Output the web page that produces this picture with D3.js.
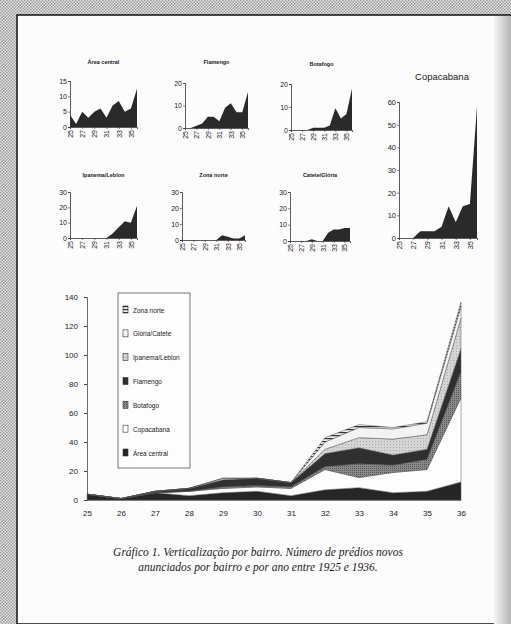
<!DOCTYPE html>
<html>
<head>
<meta charset="utf-8">
<script src="https://cdn.jsdelivr.net/npm/d3@7"></script>
<style>
  body { margin: 0; background: #fff; }
  svg { display: block; }
</style>
</head>
<body>
<div id="chart"></div>
<script>
// years 1925-1936 (shown as two digits)
const years = [25, 26, 27, 28, 29, 30, 31, 32, 33, 34, 35, 36];

// new buildings per neighbourhood and year
const areaCentral  = [4, 1, 5, 3, 5, 6, 3, 7, 8.5, 5, 6, 12.5];
const flamengo     = [0, 0, 1, 2, 5, 5, 3, 9, 11, 7, 7, 16];
const botafogo     = [0, 0, 0, 0, 1, 1, 1, 2, 9.5, 5, 7, 18];
const copacabana   = [0, 0, 0, 3, 3, 3, 5, 14, 7, 14, 15, 58];
const ipanemaLeblon = [0, 0, 0, 0, 0, 0, 0, 3, 7, 11, 10, 21];
const zonaNorte    = [0, 0, 0, 0, 0, 0, 0, 3, 2, 1, 1, 3];
const cateteGloria = [0, 0, 0, 0, 1, 0, 0, 5, 7, 7, 8, 8];

// tick labels
const smallTicks = [25, 27, 29, 31, 33, 35];
const ticks15 = [0, 5, 10, 15];
const ticks20 = [0, 10, 20];
const ticks30 = [0, 10, 20, 30];
const ticks60 = [0, 10, 20, 30, 40, 50, 60];
const mainYTicks = [0, 20, 40, 60, 80, 100, 120, 140];

const caption = [
  'Gráfico 1. Verticalização por bairro. Número de prédios novos',
  'anunciados por bairro e por ano entre 1925 e 1936.'
];

const width = 511, height = 624;

const svg = d3.select('#chart')
  .append('svg')
    .attr('width', width)
    .attr('height', height);

const defs = svg.append('defs');

// checkered frame around the scanned page
const chk = defs.append('pattern')
  .attr('id', 'chk').attr('width', 3).attr('height', 3)
  .attr('patternUnits', 'userSpaceOnUse');
chk.append('rect').attr('width', 3).attr('height', 3).attr('fill', '#e6e6e6');
chk.append('rect').attr('width', 1.5).attr('height', 1.5).attr('fill', '#9a9a9a');
chk.append('rect').attr('x', 1.5).attr('y', 1.5).attr('width', 1.5).attr('height', 1.5).attr('fill', '#9a9a9a');

// fills for the stacked chart
const dots = defs.append('pattern')
  .attr('id', 'dots').attr('width', 2).attr('height', 2)
  .attr('patternUnits', 'userSpaceOnUse');
dots.append('rect').attr('width', 2).attr('height', 2).attr('fill', '#8a8a8a');
dots.append('rect').attr('width', 1).attr('height', 1).attr('fill', '#555');

const speck = defs.append('pattern')
  .attr('id', 'speck').attr('width', 3).attr('height', 3)
  .attr('patternUnits', 'userSpaceOnUse');
speck.append('rect').attr('width', 3).attr('height', 3).attr('fill', '#d4d4d4');
speck.append('rect').attr('width', 1).attr('height', 1).attr('fill', '#aaa');

const stripes = defs.append('pattern')
  .attr('id', 'stripes').attr('width', 3).attr('height', 3)
  .attr('patternUnits', 'userSpaceOnUse');
stripes.append('rect').attr('width', 3).attr('height', 3).attr('fill', '#eee');
stripes.append('rect').attr('width', 3).attr('height', 1.2).attr('fill', '#333');

const shadow = defs.append('linearGradient').attr('id', 'shadow');
shadow.append('stop').attr('offset', '0%').attr('stop-color', '#f4f4f4');
shadow.append('stop').attr('offset', '100%').attr('stop-color', '#b5b5b5');

svg.append('rect').attr('width', width).attr('height', height).attr('fill', 'url(#chk)');
svg.append('rect')
  .attr('x', 17).attr('y', 15).attr('width', width - 17).attr('height', height - 15)
  .attr('fill', '#fcfcfc').attr('stroke', '#111').attr('stroke-width', 1.5);
svg.append('rect')
  .attr('x', 494).attr('y', 16).attr('width', 17).attr('height', height - 16)
  .attr('fill', 'url(#shadow)');

const font = '"Liberation Sans Narrow", "Liberation Sans", Arial, sans-serif';

// ---------- small multiples ----------
const panels = [
  { title: 'Área central', values: areaCentral, max: 15, ticks: ticks15, x0: 70, x1: 137, y0: 127, y1: 81, ty: 64, big: false },
  { title: 'Flamengo', values: flamengo, max: 20, ticks: ticks20, x0: 185, x1: 248, y0: 128, y1: 83, ty: 64, big: false },
  { title: 'Botafogo', values: botafogo, max: 20, ticks: ticks20, x0: 291, x1: 352, y0: 130, y1: 84, ty: 66, big: false },
  { title: 'Copacabana', values: copacabana, max: 60, ticks: ticks60, x0: 399, x1: 477, y0: 238, y1: 102, ty: 80, big: true },
  { title: 'Ipanema/Leblon', values: ipanemaLeblon, max: 30, ticks: ticks30, x0: 70, x1: 137, y0: 238, y1: 192, ty: 177, big: false },
  { title: 'Zona norte', values: zonaNorte, max: 30, ticks: ticks30, x0: 182, x1: 245, y0: 240, y1: 192, ty: 177, big: false },
  { title: 'Catete/Glória', values: cateteGloria, max: 30, ticks: ticks30, x0: 290, x1: 350, y0: 241, y1: 192, ty: 177, big: false }
];

panels.forEach(function(p) {
  const g = svg.append('g');

  const x = d3.scaleLinear().domain([25, 36]).range([p.x0, p.x1]);
  const y = d3.scaleLinear().domain([0, p.max]).range([p.y0, p.y1]);

  g.append('text')
    .attr('x', (p.x0 + p.x1) / 2 + (p.big ? 4 : 0))
    .attr('y', p.ty)
    .attr('text-anchor', 'middle')
    .style('font-family', p.big ? '"Liberation Sans", Arial, sans-serif' : font)
    .style('font-size', p.big ? '9.5px' : '5.5px')
    .style('font-weight', p.big ? 'normal' : 'bold')
    .style('fill', '#222')
    .text(p.title);

  const area = d3.area()
    .x(function(d, i) { return x(years[i]); })
    .y0(y(0))
    .y1(function(d) { return y(d); });

  g.append('path')
    .datum(p.values)
    .attr('d', area)
    .attr('fill', '#2a2a2a');

  const yAxis = g.append('g')
    .attr('transform', 'translate(' + p.x0 + ',0)')
    .call(d3.axisLeft(y).tickValues(p.ticks).tickSize(2).tickPadding(1));

  const xAxis = g.append('g')
    .attr('transform', 'translate(0,' + p.y0 + ')')
    .call(d3.axisBottom(x).tickValues(smallTicks).tickSize(2).tickPadding(1));

  [yAxis, xAxis].forEach(function(a) {
    a.select('.domain').attr('stroke', '#333').attr('stroke-width', 0.8);
    a.selectAll('line').attr('stroke', '#333').attr('stroke-width', 0.6);
    a.selectAll('text')
      .style('font-family', font)
      .style('font-size', p.big ? '7.5px' : '7px')
      .style('fill', '#222');
  });

  xAxis.selectAll('text')
    .attr('transform', 'rotate(-90)')
    .attr('text-anchor', 'end')
    .attr('dy', '0.35em')
    .attr('x', -3)
    .attr('y', 0);
});

// ---------- stacked area chart ----------
const series = [
  { key: 'Área central', values: areaCentral, fill: '#262626' },
  { key: 'Copacabana', values: copacabana, fill: '#fdfdfd' },
  { key: 'Botafogo', values: botafogo, fill: 'url(#dots)' },
  { key: 'Flamengo', values: flamengo, fill: '#303030' },
  { key: 'Ipanema/Leblon', values: ipanemaLeblon, fill: 'url(#speck)' },
  { key: 'Glória/Catete', values: cateteGloria, fill: '#f3f3f3' },
  { key: 'Zona norte', values: zonaNorte, fill: 'url(#stripes)' }
];

const table = years.map(function(yr, i) {
  const row = { year: yr };
  series.forEach(function(s) { row[s.key] = s.values[i]; });
  return row;
});

const stacked = d3.stack().keys(series.map(function(s) { return s.key; }))(table);

const mx = d3.scaleLinear().domain([25, 36]).range([87, 461]);
const my = d3.scaleLinear().domain([0, 140]).range([500, 297]);

const main = svg.append('g');

const stackArea = d3.area()
  .x(function(d) { return mx(d.data.year); })
  .y0(function(d) { return my(d[0]); })
  .y1(function(d) { return my(d[1]); });

main.selectAll('path.layer')
  .data(stacked)
  .enter()
  .append('path')
    .attr('class', 'layer')
    .attr('d', stackArea)
    .attr('fill', function(d, i) { return series[i].fill; })
    .attr('stroke', '#555')
    .attr('stroke-width', 0.5);

const myAxis = main.append('g')
  .attr('transform', 'translate(' + mx(25) + ',0)')
  .call(d3.axisLeft(my).tickValues(mainYTicks).tickSize(3).tickPadding(6));

const mxAxis = main.append('g')
  .attr('transform', 'translate(0,' + my(0) + ')')
  .call(d3.axisBottom(mx).tickValues(years).tickSize(0).tickPadding(10));

myAxis.select('.domain').attr('stroke', '#444').attr('stroke-width', 0.8);
myAxis.selectAll('line').attr('stroke', '#444');
mxAxis.select('.domain').attr('stroke', '#444').attr('stroke-width', 0.6);
[myAxis, mxAxis].forEach(function(a) {
  a.selectAll('text')
    .style('font-family', font)
    .style('font-size', '8px')
    .style('fill', '#222');
});

// legend: listed top to bottom in reverse stacking order
const legend = main.append('g');
legend.append('rect')
  .attr('x', 118).attr('y', 293).attr('width', 72).attr('height', 175)
  .attr('fill', '#fdfdfd').attr('stroke', '#555').attr('stroke-width', 0.8);

const legendItems = series.slice().reverse();
const ly = d3.scalePoint()
  .domain(legendItems.map(function(s) { return s.key; }))
  .range([310, 453]);

legendItems.forEach(function(s) {
  legend.append('rect')
    .attr('x', 123).attr('y', ly(s.key) - 4)
    .attr('width', 5).attr('height', 7)
    .attr('fill', s.fill)
    .attr('stroke', '#333').attr('stroke-width', 0.6);
  legend.append('text')
    .attr('x', 133).attr('y', ly(s.key) + 2.5)
    .style('font-family', font)
    .style('font-size', '6.5px')
    .style('fill', '#222')
    .text(s.key);
});

// caption
svg.append('g')
  .selectAll('text')
  .data(caption)
  .enter()
  .append('text')
    .attr('x', 258)
    .attr('y', function(d, i) { return 556 + i * 15; })
    .attr('text-anchor', 'middle')
    .style('font-family', '"Liberation Serif", "DejaVu Serif", serif')
    .style('font-style', 'italic')
    .style('font-size', '11.5px')
    .style('fill', '#222')
    .text(function(d) { return d; });
</script>
</body>
</html>
